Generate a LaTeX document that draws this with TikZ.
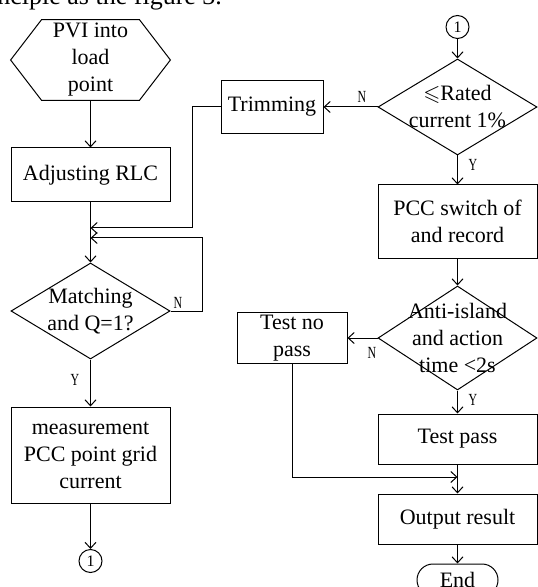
\documentclass[tikz,border=0pt]{standalone}
\usepackage{amssymb}
\usepackage{fontspec}
\setmainfont{Liberation Serif}
\newfontfamily\ynfont[FakeStretch=0.7]{Liberation Serif}
\usetikzlibrary{arrows.meta, positioning, shapes.geometric, shapes.misc}

\begin{document}
\begin{tikzpicture}[
    x=0.5pt, y=-0.5pt,
    >={Straight Barb[length=3pt,width=5.5pt]},
    every node/.style={font=\fontsize{11}{13.5}\selectfont},
    box/.style={draw, line width=0.5pt, minimum width=79.5pt, align=center, inner sep=1pt},
    decision/.style={draw, diamond, line width=0.5pt, minimum width=79.5pt, inner sep=0pt},
    connector/.style={draw, circle, line width=0.5pt, minimum size=11.5pt, inner sep=0pt,
        font=\fontsize{8}{9}\selectfont},
    yn/.style={font=\ynfont\fontsize{8.5}{9}\selectfont, inner sep=0pt},
    line/.style={->, line width=0.5pt}
]
\useasboundingbox (0,0) rectangle (537,587);

\node[anchor=base west, inner sep=0pt, font=\fontsize{13}{15}\selectfont] (caption) at (-3,5) {nciple as the figure 3.};

% left column
\node[align=center, inner sep=0pt, minimum width=79.5pt, minimum height=40pt] (pvi) at (90.5,60) {PVI into\\load\\point};
\draw[line width=0.5pt] (pvi.west) -- ([xshift=15.5pt]pvi.north west) -- ([xshift=-15.5pt]pvi.north east)
    -- (pvi.east) -- ([xshift=-15.5pt]pvi.south east) -- ([xshift=15.5pt]pvi.south west) -- cycle;
\node[box, minimum height=27pt] (rlc) at (90.5,175) {Adjusting RLC};
\node[decision, minimum height=48pt] (match) at (90.5,311) {};
\node[align=center] at (match) {Matching\\and Q=1?};
\node[box, minimum height=48pt] (meas) at (90.5,455) {measurement\\PCC point grid\\current};
\node[connector] (conA) at (90.5,561) {1};

% right column
\node[connector] (conB) at (457.5,27) {1};
\node[decision, minimum height=48pt] (rated) at (457.5,107) {};
\node[align=center] at (rated) {$\leqslant$Rated\\current 1\%};
\node[box, minimum width=51pt, minimum height=26.5pt] (trim) at (272,107) {Trimming};
\node[box, minimum height=36.5pt] (pcc) at (457.5,221.5) {PCC switch of\\and record};
\node[decision, minimum height=52pt] (anti) at (457.5,338) {};
\node[align=center] at (anti) {Anti-island\\and action\\time <2s};
\node[box, minimum width=55pt, minimum height=25pt] (nopass) at (292,338) {Test no\\pass};
\node[box, minimum height=25pt] (pass) at (457.5,439) {Test pass};
\node[box, minimum height=25pt] (output) at (457.5,519) {Output result};
\node[draw, rounded rectangle, line width=0.5pt, minimum width=40.5pt, minimum height=16pt, inner sep=0pt] (end) at (457.5,580) {End};

\coordinate (trimcorner) at (192,228);
\coordinate (mergeA) at (90.5,228);
\coordinate (mergeB) at (90.5,238);
\coordinate (mergeC) at (457.5,477);

\draw[line] (pvi.south) -- (rlc.north);
\draw[line] (rlc.south) -- (match.north);
\draw[line] (trim.west) -| (trimcorner) -- (mergeA);
\draw[line] (match.east) -- ++(32,0) |- (mergeB);
\node[yn] at (178,303) {N};
\draw[line] (match.south) -- (meas.north);
\node[yn] at (75,380) {Y};
\draw[line] (meas.south) -- (conA.north);

\draw[line] (conB.south) -- (rated.north);
\draw[line] (rated.west) -- (trim.east);
\node[yn] at (362,97) {N};
\draw[line] (rated.south) -- (pcc.north);
\node[yn] at (473,165) {Y};
\draw[line] (pcc.south) -- (anti.north);
\draw[line] (anti.west) -- (nopass.east);
\node[yn] at (372,353) {N};
\draw[line] (anti.south) -- (pass.north);
\node[yn] at (473,400) {Y};
\draw[line] (nopass.south) |- (mergeC);
\draw[line] (pass.south) -- (output.north);
\draw[line] (output.south) -- (end.north);

\end{tikzpicture}
\end{document}
